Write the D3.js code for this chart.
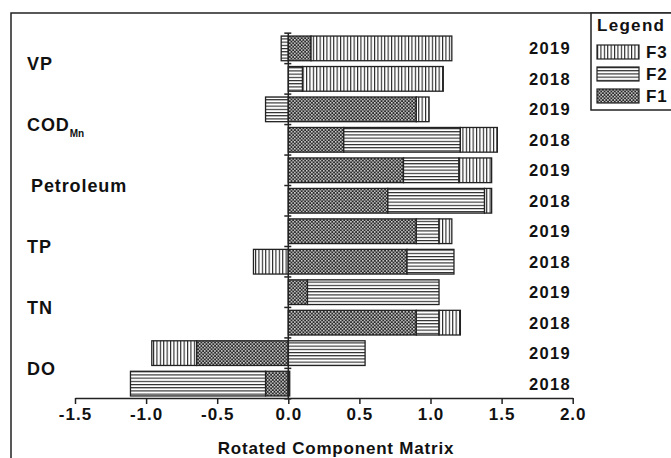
<!DOCTYPE html>
<html>
<head>
<meta charset="utf-8">
<script src="https://cdn.jsdelivr.net/npm/d3@7"></script>
<style>
  body { margin: 0; background: #fff; }
  text { font-family: "Liberation Sans", Arial, sans-serif; font-weight: bold; fill: #111; }
</style>
</head>
<body>
<div id="chart"></div>
<script>
// rows from top to bottom
const variables = ["VP", "VP", "COD", "COD", "Petroleum", "Petroleum", "TP", "TP", "TN", "TN", "DO", "DO"];
const years = ["2019", "2018", "2019", "2018", "2019", "2018", "2019", "2018", "2019", "2018", "2019", "2018"];
const f1 = [0.16, 0, 0.90, 0.39, 0.81, 0.70, 0.90, 0.835, 0.135, 0.90, -0.645, -0.16];
const f2 = [-0.05, 0.10, -0.16, 0.82, 0.39, 0.68, 0.16, 0.33, 0.925, 0.16, 0.54, -0.95];
const f3 = [0.99, 0.99, 0.09, 0.26, 0.23, 0.05, 0.09, -0.245, 0, 0.15, -0.315, 0.01];
const groups = ["VP", "COD", "Petroleum", "TP", "TN", "DO"];
const xTicks = [-1.5, -1.0, -0.5, 0.0, 0.5, 1.0, 1.5, 2.0];
const keys = ["F1", "F2", "F3"];
const legendKeys = ["F3", "F2", "F1"];

const W = 671, H = 458;

const svg = d3.select("#chart")
    .append("svg")
    .attr("width", W)
    .attr("height", H);

// hatch patterns
const defs = svg.append("defs");
const pV = defs.append("pattern").attr("id", "pF3").attr("patternUnits", "userSpaceOnUse")
    .attr("width", 3.4).attr("height", 10);
pV.append("rect").attr("width", 3.4).attr("height", 10).attr("fill", "#fff");
pV.append("rect").attr("x", 0).attr("width", 1.1).attr("height", 10).attr("fill", "#222");

const pH = defs.append("pattern").attr("id", "pF2").attr("patternUnits", "userSpaceOnUse")
    .attr("width", 10).attr("height", 3.2);
pH.append("rect").attr("width", 10).attr("height", 3.2).attr("fill", "#fff");
pH.append("rect").attr("y", 0).attr("width", 10).attr("height", 1.1).attr("fill", "#222");

const pC = defs.append("pattern").attr("id", "pF1").attr("patternUnits", "userSpaceOnUse")
    .attr("width", 3.4).attr("height", 3.4);
pC.append("rect").attr("width", 3.4).attr("height", 3.4).attr("fill", "#2a2a2a");
pC.append("rect").attr("x", 0).attr("y", 0).attr("width", 1.5).attr("height", 1.5).attr("fill", "#ddd");
pC.append("rect").attr("x", 1.7).attr("y", 1.7).attr("width", 1.5).attr("height", 1.5).attr("fill", "#ddd");

const fills = { F1: "url(#pF1)", F2: "url(#pF2)", F3: "url(#pF3)" };

// outer frame
svg.append("rect")
    .attr("x", 11).attr("y", 13)
    .attr("width", 700).attr("height", 500)
    .attr("fill", "none").attr("stroke", "#222").attr("stroke-width", 1.5);

const x = d3.scaleLinear().domain([-1.5, 2.0]).range([75, 572.7]);
const rows = d3.range(variables.length);
const y = d3.scaleBand().domain(rows).range([33, 399]).paddingInner(0.19).paddingOuter(0.1);

const table = rows.map(i => ({ row: i, F1: f1[i], F2: f2[i], F3: f3[i] }));
const series = d3.stack().keys(keys).offset(d3.stackOffsetDiverging)(table);

// bars
svg.append("g").selectAll("g")
    .data(series)
    .join("g")
    .attr("fill", d => fills[d.key])
    .selectAll("rect")
    .data(d => d.filter(s => s[1] !== s[0]))
    .join("rect")
    .attr("x", d => x(Math.min(d[0], d[1])))
    .attr("width", d => Math.abs(x(d[1]) - x(d[0])))
    .attr("y", d => y(d.data.row))
    .attr("height", y.bandwidth())
    .attr("stroke", "#222")
    .attr("stroke-width", 1.3);

// y axis at zero with ticks at band boundaries
const gap = (y.step() - y.bandwidth()) / 2;
svg.append("line")
    .attr("x1", x(0)).attr("x2", x(0))
    .attr("y1", y.range()[0]).attr("y2", y.range()[1])
    .attr("stroke", "#222").attr("stroke-width", 1.5);
const bounds = rows.map(i => y(i) - gap).concat([y(rows.length - 1) + y.bandwidth() + gap]);
svg.append("g").selectAll("line")
    .data(bounds)
    .join("line")
    .attr("x1", x(0) - 4).attr("x2", x(0) + 3)
    .attr("y1", d => d).attr("y2", d => d)
    .attr("stroke", "#222").attr("stroke-width", 1.5);

// x axis
const xAxis = svg.append("g")
    .attr("transform", `translate(0,${y.range()[1] - 1})`)
    .call(d3.axisBottom(x).tickValues(xTicks).tickFormat(d => d.toFixed(1)).tickSize(6).tickSizeOuter(0));
xAxis.select(".domain").attr("stroke", "#222").attr("stroke-width", 1.5);
xAxis.selectAll(".tick line").attr("stroke", "#222").attr("stroke-width", 1.5);
xAxis.selectAll(".tick text")
    .attr("y", 10)
    .style("font-family", '"Liberation Sans", Arial, sans-serif')
    .style("font-weight", "bold")
    .style("font-size", "17px")
    .style("letter-spacing", "1px")
    .attr("fill", "#111");

svg.append("text")
    .attr("x", 336).attr("y", 454)
    .attr("text-anchor", "middle")
    .style("font-size", "17px")
    .style("letter-spacing", "0.8px")
    .text("Rotated Component Matrix");

// year labels
svg.append("g").selectAll("text")
    .data(rows)
    .join("text")
    .attr("x", 550)
    .attr("y", i => y(i) + y.bandwidth() / 2)
    .attr("dy", "0.36em")
    .attr("text-anchor", "middle")
    .style("font-size", "16.5px")
    .style("letter-spacing", "1.3px")
    .text(i => years[i]);

// variable labels at group centres
const labels = svg.append("g").selectAll("text")
    .data(groups)
    .join("text")
    .attr("x", g => g === "Petroleum" ? 31 : 27)
    .attr("y", (g, k) => (y(2 * k) + y(2 * k + 1) + y.bandwidth()) / 2)
    .attr("dy", "0.36em")
    .style("font-size", "18px")
    .style("letter-spacing", "0.9px");
labels.each(function(g) {
    const t = d3.select(this);
    if (g === "COD") {
        t.append("tspan").text("COD");
        t.append("tspan").attr("dy", 6).style("font-size", "10px").style("letter-spacing", "0px").text("Mn");
    } else {
        t.text(g);
    }
});

// legend
const lg = svg.append("g");
lg.append("rect")
    .attr("x", 591).attr("y", 13)
    .attr("width", 100).attr("height", 97)
    .attr("fill", "#fff").attr("stroke", "#222").attr("stroke-width", 1.5);
lg.append("text")
    .attr("x", 597).attr("y", 31)
    .style("font-size", "17px")
    .style("letter-spacing", "1.3px")
    .text("Legend");
const li = lg.selectAll("g.item")
    .data(legendKeys)
    .join("g")
    .attr("class", "item")
    .attr("transform", (d, i) => `translate(597,${45 + i * 22})`);
li.append("rect")
    .attr("width", 42).attr("height", 14)
    .attr("fill", d => fills[d])
    .attr("stroke", "#222").attr("stroke-width", 1.2);
li.append("text")
    .attr("x", 49).attr("y", 7)
    .attr("dy", "0.36em")
    .style("font-size", "17px")
    .style("letter-spacing", "0.8px")
    .text(d => d);
</script>
</body>
</html>
